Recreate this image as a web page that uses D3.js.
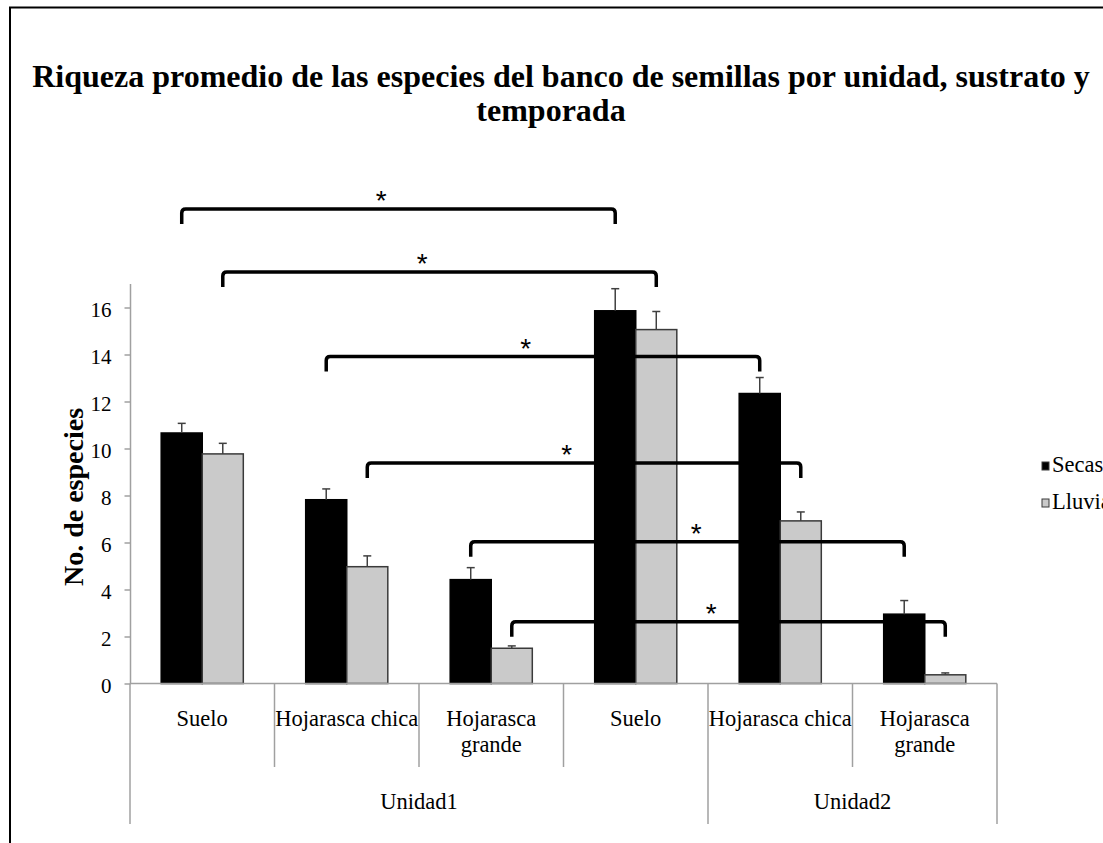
<!DOCTYPE html>
<html>
<head>
<meta charset="utf-8">
<script src="https://cdn.jsdelivr.net/npm/d3@7"></script>
<style>
  body { margin: 0; background: #fff; }
  svg { display: block; }
</style>
</head>
<body>
<script>
// Data
var categories = ["Suelo", "Hojarasca chica", "Hojarasca grande", "Suelo", "Hojarasca chica", "Hojarasca grande"];
var units      = ["Unidad1", "Unidad1", "Unidad1", "Unidad1", "Unidad2", "Unidad2"];
var series     = ["Secas", "Lluvia"];
var secas      = [10.66, 7.82, 4.42, 15.86, 12.34, 2.95];
var lluvia     = [9.77, 4.97, 1.50, 15.06, 6.92, 0.37];
var secasErr   = [0.41, 0.46, 0.51, 0.94, 0.68, 0.58];
var lluviaErr  = [0.45, 0.46, 0.10, 0.77, 0.38, 0.08];
var yTicks     = [0, 2, 4, 6, 8, 10, 12, 14, 16];

// significance brackets: [category, series] -> [category, series], level in y units
var brackets = [
  {from: [0, "Secas"],  to: [3, "Secas"],  level: 20.19},
  {from: [0, "Lluvia"], to: [3, "Lluvia"], level: 17.51},
  {from: [1, "Secas"],  to: [4, "Secas"],  level: 13.91},
  {from: [1, "Lluvia"], to: [4, "Lluvia"], level: 9.38},
  {from: [2, "Secas"],  to: [5, "Secas"],  level: 6.03},
  {from: [2, "Lluvia"], to: [5, "Lluvia"], level: 2.63}
];
var starAt = [0.46, 0.46, 0.46, 0.46, 0.52, 0.46];

var W = 1103, H = 843;
var plotL = 130.5, plotR = 997, plotT = 284, plotB = 683.5;
var serif = "'Liberation Serif', 'Times New Roman', serif";
var colors = {"Secas": "#000000", "Lluvia": "#cacaca"};

var svg = d3.select("body").append("svg").attr("width", W).attr("height", H);

// frame (only left and top edges are in view)
svg.append("path")
  .attr("d", "M10," + H + "V7.5H" + W)
  .attr("fill", "none").attr("stroke", "#000").attr("stroke-width", 2);

// title
var title = svg.append("text")
  .attr("font-family", serif).attr("font-weight", "bold").attr("font-size", 32)
  .attr("text-anchor", "middle").attr("fill", "#000");
title.append("tspan").attr("x", 561).attr("y", 87)
  .text("Riqueza promedio de las especies del banco de semillas por unidad, sustrato y");
title.append("tspan").attr("x", 551).attr("y", 121).text("temporada");

var idx = d3.range(categories.length);
var x0 = d3.scaleBand().domain(idx).range([plotL - 0.5, plotR]).padding(0);
var x1 = d3.scaleBand().domain(series).range([0, x0.bandwidth()]).paddingInner(0).paddingOuter(0.76);
var y = d3.scaleLinear().domain([0, 17]).range([plotB, plotT]);

var rows = idx.map(function(i) {
  return {i: i, vals: [
    {s: "Secas",  v: secas[i],  e: secasErr[i]},
    {s: "Lluvia", v: lluvia[i], e: lluviaErr[i]}
  ]};
});

// y axis
var yAxis = d3.axisLeft(y).tickValues(yTicks).tickSize(6).tickPadding(13).tickFormat(d3.format("d"));
var gy = svg.append("g").attr("transform", "translate(" + plotL + ",0)").call(yAxis);
gy.select(".domain").attr("stroke", "#a0a0a0").attr("stroke-width", 1.5)
  .attr("d", "M0," + plotT + "V" + plotB);
gy.selectAll(".tick line").attr("stroke", "#a0a0a0").attr("stroke-width", 1.5);
gy.selectAll(".tick text").attr("font-family", serif).attr("font-size", 21).attr("fill", "#000").attr("dy", "0.45em");

// y axis title
svg.append("text")
  .attr("transform", "translate(83,497) rotate(-90)")
  .attr("text-anchor", "middle")
  .attr("font-family", serif).attr("font-weight", "bold").attr("font-size", 28)
  .text("No. de especies");

// bars
var groups = svg.append("g").selectAll("g").data(rows).enter().append("g")
  .attr("transform", function(d) { return "translate(" + x0(d.i) + ",0)"; });

groups.selectAll("rect").data(function(d) { return d.vals; }).enter().append("rect")
  .attr("x", function(d) { return x1(d.s); })
  .attr("y", function(d) { return y(d.v); })
  .attr("width", x1.bandwidth())
  .attr("height", function(d) { return y(0) - y(d.v); })
  .attr("fill", function(d) { return colors[d.s]; })
  .attr("stroke", function(d) { return d.s === "Secas" ? "#000" : "#3a3a3a"; })
  .attr("stroke-width", 1.5);

// error bars (upper only)
var eb = groups.selectAll("g.err").data(function(d) { return d.vals; }).enter().append("g").attr("class", "err");
eb.append("line")
  .attr("x1", function(d) { return x1(d.s) + x1.bandwidth() / 2; })
  .attr("x2", function(d) { return x1(d.s) + x1.bandwidth() / 2; })
  .attr("y1", function(d) { return y(d.v); })
  .attr("y2", function(d) { return y(d.v + d.e); })
  .attr("stroke", "#404040").attr("stroke-width", 1.5);
eb.append("line")
  .attr("x1", function(d) { return x1(d.s) + x1.bandwidth() / 2 - 4; })
  .attr("x2", function(d) { return x1(d.s) + x1.bandwidth() / 2 + 4; })
  .attr("y1", function(d) { return y(d.v + d.e); })
  .attr("y2", function(d) { return y(d.v + d.e); })
  .attr("stroke", "#404040").attr("stroke-width", 1.5);

// x axis line
svg.append("line").attr("x1", plotL - 0.5).attr("x2", plotR).attr("y1", plotB).attr("y2", plotB)
  .attr("stroke", "#a0a0a0").attr("stroke-width", 1.5);

// category separators and unit separators
var catEdges = idx.map(function(i) { return x0(i); }).concat([plotR]);
var unitEdges = catEdges.filter(function(xe, k) {
  return k === 0 || k === units.length || units[k] !== units[k - 1];
});
svg.append("g").selectAll("line").data(catEdges).enter().append("line")
  .attr("x1", function(d) { return d; }).attr("x2", function(d) { return d; })
  .attr("y1", plotB).attr("y2", function(d) { return unitEdges.indexOf(d) >= 0 ? 824 : 767; })
  .attr("stroke", "#a0a0a0").attr("stroke-width", 1.5);

// category labels (two lines when the name is long)
var catLab = svg.append("g").selectAll("text").data(idx).enter().append("text")
  .attr("font-family", serif).attr("font-size", 22.5).attr("text-anchor", "middle");
catLab.each(function(i) {
  var t = d3.select(this), cx = x0(i) + x0.bandwidth() / 2;
  var words = categories[i] === "Hojarasca grande" ? ["Hojarasca", "grande"] : [categories[i]];
  words.forEach(function(w, k) {
    t.append("tspan").attr("x", cx).attr("y", 726 + k * 26).text(w);
  });
});

// unit labels
var unitNames = units.filter(function(u, k) { return k === 0 || u !== units[k - 1]; });
svg.append("g").selectAll("text").data(unitNames).enter().append("text")
  .attr("font-family", serif).attr("font-size", 22.5).attr("text-anchor", "middle")
  .attr("x", function(u) {
    var first = units.indexOf(u), last = units.lastIndexOf(u);
    return (x0(first) + x0(last) + x0.bandwidth()) / 2;
  })
  .attr("y", 809)
  .text(function(u) { return u; });

// significance brackets
function barCenter(p) { return x0(p[0]) + x1(p[1]) + x1.bandwidth() / 2; }
var bg = svg.append("g");
brackets.forEach(function(b, k) {
  var xa = barCenter(b.from), xb = barCenter(b.to), yl = y(b.level), leg = 15, r = 4;
  var path = d3.path();
  path.moveTo(xa, yl + leg);
  path.lineTo(xa, yl + r);
  path.quadraticCurveTo(xa, yl, xa + r, yl);
  path.lineTo(xb - r, yl);
  path.quadraticCurveTo(xb, yl, xb, yl + r);
  path.lineTo(xb, yl + leg);
  bg.append("path").attr("d", path.toString())
    .attr("fill", "none").attr("stroke", "#000").attr("stroke-width", 3.5);
  bg.append("text")
    .attr("x", xa + (xb - xa) * starAt[k]).attr("y", yl + 1)
    .attr("text-anchor", "middle")
    .attr("font-family", "'Liberation Sans', Arial, sans-serif").attr("font-size", 28)
    .text("*");
});

// legend (cut off by the right edge, as in the reference)
var lg = svg.append("g").selectAll("g").data(series).enter().append("g")
  .attr("transform", function(d, k) { return "translate(1042," + (462 + k * 37) + ")"; });
lg.append("rect").attr("width", 7).attr("height", 8)
  .attr("fill", function(d) { return colors[d]; })
  .attr("stroke", "#3a3a3a").attr("stroke-width", 1);
lg.append("text").attr("x", 10).attr("y", 10)
  .attr("font-family", serif).attr("font-size", 22.5)
  .text(function(d) { return d; });
</script>
</body>
</html>
